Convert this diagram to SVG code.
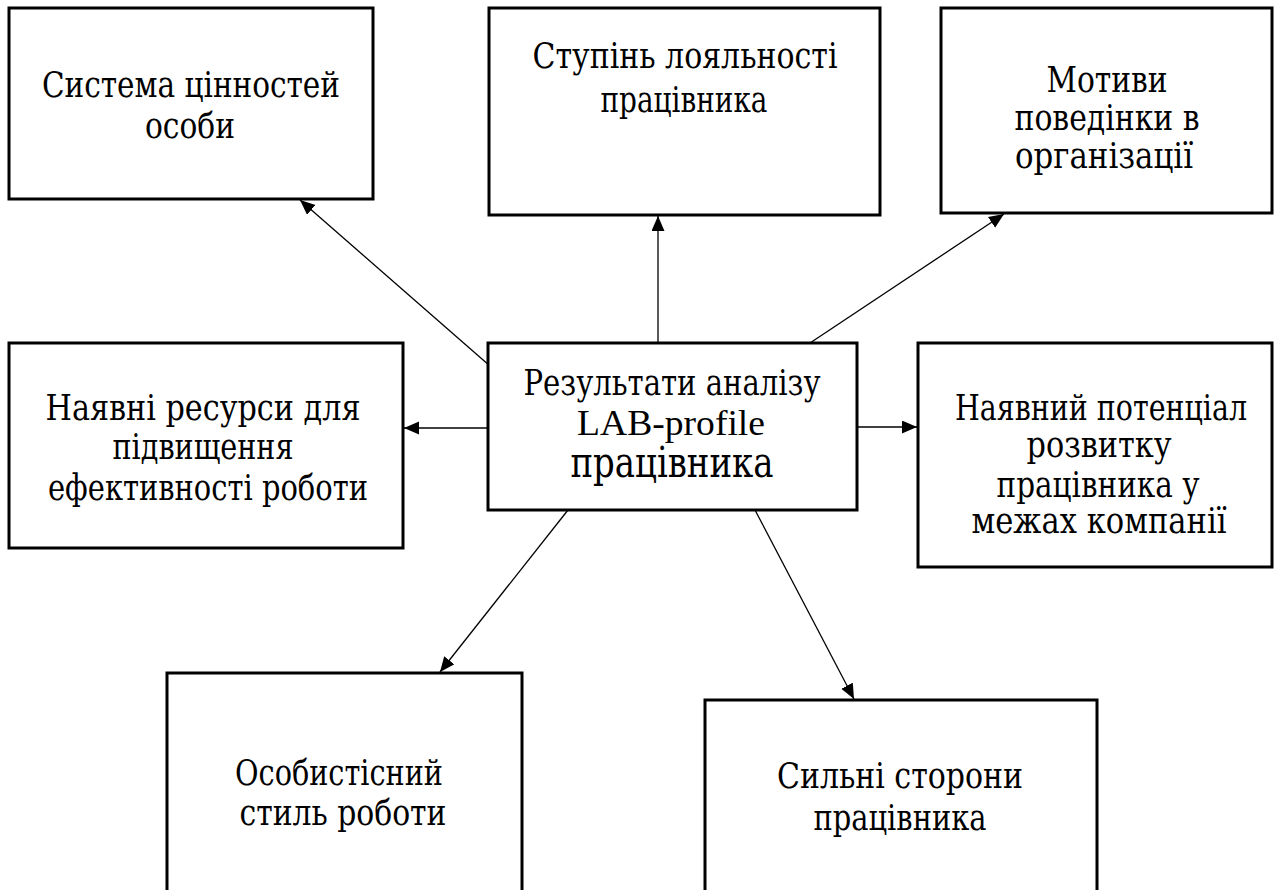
<svg xmlns="http://www.w3.org/2000/svg" width="1276" height="890" viewBox="0 0 1276 890">
<style>
.box{fill:#fff;stroke:#000;stroke-width:3}
.t{font-family:"DejaVu Serif","Liberation Serif","Times New Roman",serif;font-stretch:condensed;font-size:35px;fill:#000;text-anchor:middle}
.lat{font-family:"Liberation Serif","Times New Roman",serif;font-stretch:normal}
.big{font-size:42px}
.c{stroke:#000;stroke-width:1.3;fill:none;marker-end:url(#ah)}
</style>
<defs>
<marker id="ah" markerUnits="userSpaceOnUse" markerWidth="16" markerHeight="14" refX="15" refY="6.5" orient="auto">
<path d="M0,0 L15,6.5 L0,13 z" fill="#000"/>
</marker>
</defs>
<rect width="1276" height="890" fill="#fff"/>
<g id="connectors">
<line class="c" x1="490" y1="366" x2="300" y2="200"/>
<line class="c" x1="658" y1="343" x2="658" y2="216"/>
<line class="c" x1="810" y1="343" x2="1004" y2="214"/>
<line class="c" x1="488" y1="428" x2="404" y2="428"/>
<line class="c" x1="857" y1="427" x2="917" y2="427"/>
<line class="c" x1="568" y1="510" x2="440" y2="672"/>
<line class="c" x1="755" y1="510" x2="854" y2="699"/>
</g>
<g id="n1">
<rect class="box" x="9" y="8" width="364" height="191"/>
<text class="t" x="191" y="97" textLength="298" lengthAdjust="spacingAndGlyphs">Система цінностей</text>
<text class="t" x="190" y="138" textLength="90" lengthAdjust="spacingAndGlyphs">особи</text>
</g>
<g id="n2">
<rect class="box" x="489" y="8" width="391" height="207"/>
<text class="t" x="685" y="68" textLength="305" lengthAdjust="spacingAndGlyphs">Ступінь лояльності</text>
<text class="t" x="684" y="112" textLength="167" lengthAdjust="spacingAndGlyphs">працівника</text>
</g>
<g id="n3">
<rect class="box" x="941" y="8" width="331" height="205"/>
<text class="t" x="1107" y="92" textLength="121" lengthAdjust="spacingAndGlyphs">Мотиви</text>
<text class="t" x="1107" y="130" textLength="185" lengthAdjust="spacingAndGlyphs">поведінки в</text>
<text class="t" x="1104" y="168" textLength="178" lengthAdjust="spacingAndGlyphs">організації</text>
</g>
<g id="n4">
<rect class="box" x="9" y="343" width="394" height="205"/>
<text class="t" x="203" y="420" textLength="315" lengthAdjust="spacingAndGlyphs">Наявні ресурси для</text>
<text class="t" x="203" y="459" textLength="181" lengthAdjust="spacingAndGlyphs">підвищення</text>
<text class="t" x="208" y="500" textLength="320" lengthAdjust="spacingAndGlyphs">ефективності роботи</text>
</g>
<g id="center">
<rect class="box" x="488" y="343" width="369" height="167"/>
<text class="t" x="672" y="395" textLength="297" lengthAdjust="spacingAndGlyphs">Результати аналізу</text>
<text class="t lat" x="671" y="435" textLength="188" lengthAdjust="spacingAndGlyphs">LAB-profile</text>
<text class="t big" x="672" y="477" textLength="203" lengthAdjust="spacingAndGlyphs">працівника</text>
</g>
<g id="n6">
<rect class="box" x="918" y="343" width="354" height="224"/>
<text class="t" x="1101" y="420" textLength="292" lengthAdjust="spacingAndGlyphs">Наявний потенціал</text>
<text class="t" x="1099" y="457" textLength="145" lengthAdjust="spacingAndGlyphs">розвитку</text>
<text class="t" x="1098" y="497" textLength="203" lengthAdjust="spacingAndGlyphs">працівника у</text>
<text class="t" x="1099" y="533" textLength="255" lengthAdjust="spacingAndGlyphs">межах компанії</text>
</g>
<g id="n7">
<rect class="box" x="167" y="673" width="355" height="240"/>
<text class="t" x="339" y="785" textLength="208" lengthAdjust="spacingAndGlyphs">Особистісний</text>
<text class="t" x="343" y="825" textLength="207" lengthAdjust="spacingAndGlyphs">стиль роботи</text>
</g>
<g id="n8">
<rect class="box" x="705" y="700" width="392" height="220"/>
<text class="t" x="900" y="788" textLength="246" lengthAdjust="spacingAndGlyphs">Сильні сторони</text>
<text class="t" x="900" y="830" textLength="173" lengthAdjust="spacingAndGlyphs">працівника</text>
</g>
</svg>
